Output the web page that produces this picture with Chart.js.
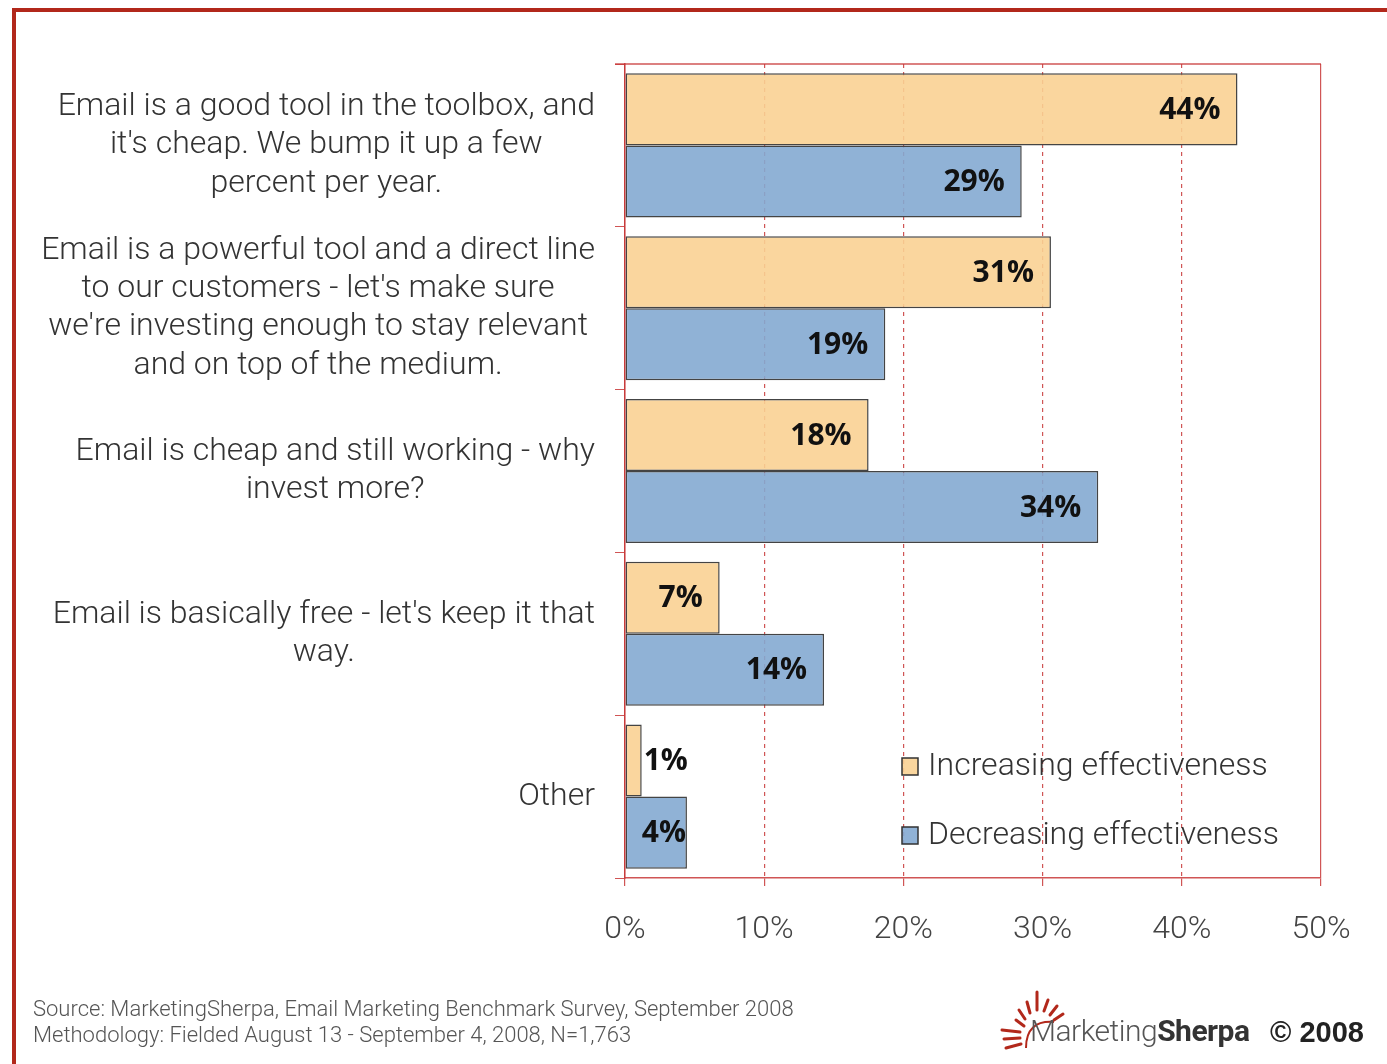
<!DOCTYPE html>
<html>
<head>
<meta charset="utf-8">
<script src="https://cdn.jsdelivr.net/npm/chart.js@4.4.1/dist/chart.umd.min.js"></script>
<style>
  body { margin: 0; background: #fff; }
  #wrap { position: relative; width: 1387px; height: 1064px; overflow: hidden; }
  #frame { position: absolute; left: 12px; top: 8px; width: 1400px; height: 1100px;
           border-left: 4px solid #b2281b; border-top: 4px solid #b2281b; }
  canvas { position: absolute; left: 0; top: 0; }
  .foot { position: absolute; left: 33px; font: 300 22px Roboto, sans-serif; color: #555; white-space: nowrap; }
  #logo { position: absolute; left: 1030px; top: 1013px; font: 300 30px Roboto, sans-serif; color: #555; white-space: nowrap; letter-spacing: -0.5px; }
  #logo b { font-weight: 700; color: #333; }
  #copy { position: absolute; left: 1270px; top: 1016px; font: 700 29px "Liberation Sans", Arial, sans-serif; color: #222; }
  #sun { position: absolute; left: 996px; top: 986px; }
</style>
</head>
<body>
<div id="wrap">
  <div id="frame"></div>
  <canvas id="chart" width="1387" height="1064"></canvas>
  <div class="foot" style="top:996px">Source: MarketingSherpa, Email Marketing Benchmark Survey, September 2008</div>
  <div class="foot" style="top:1022px">Methodology: Fielded August 13 - September 4, 2008, N=1,763</div>
  <svg id="sun" width="80" height="64" viewBox="0 0 80 64">
    <g stroke="#b2281b" stroke-width="3" stroke-linecap="round">
      <line x1="28" y1="40" x2="20" y2="34"/>
      <line x1="29" y1="33" x2="23" y2="24"/>
      <line x1="34" y1="27" x2="31" y2="16"/>
      <line x1="41" y1="24" x2="41" y2="6"/>
      <line x1="48" y1="25" x2="52" y2="14"/>
      <line x1="54" y1="29" x2="61" y2="20"/>
      <line x1="58" y1="34" x2="67" y2="28"/>
      <line x1="24" y1="46" x2="6" y2="44"/>
      <line x1="24" y1="52" x2="8" y2="53"/>
      <line x1="25" y1="58" x2="10" y2="62"/>
    </g>
    <path d="M30 62 Q30 34 58 36" fill="none" stroke="#b2281b" stroke-width="2"/>
  </svg>
  <div id="logo">Marketing<b>Sherpa</b></div>
  <div id="copy">© 2008</div>
</div>
<script>
const categories = [
  ["Email is a good tool in the toolbox, and", "it's cheap. We bump it up a few", "percent per year."],
  ["Email is a powerful tool and a direct line", "to our customers - let's make sure", "we're investing enough to stay relevant", "and on top of the medium."],
  ["Email is cheap and still working - why", "invest more?"],
  ["Email is basically free - let's keep it that", "way."],
  ["Other"]
];
const seriesNames = ["Increasing effectiveness", "Decreasing effectiveness"];
const increasing = [44, 30.6, 17.5, 6.8, 1.2];
const decreasing = [28.5, 18.7, 34.0, 14.3, 4.45];
const xTicks = [0, 10, 20, 30, 40, 50];

const red = "rgba(200,55,55,0.85)";
const orangeFill = "rgba(250,210,148,0.9)";
const blueFill = "rgba(132,170,210,0.9)";

const barLabels = {
  id: "barLabels",
  afterDatasetsDraw(chart) {
    const ctx = chart.ctx;
    ctx.save();
    ctx.font = "700 30px 'Open Sans', sans-serif";
    ctx.fillStyle = "#111";
    ctx.textBaseline = "middle";
    ctx.textAlign = "left";
    chart.data.datasets.forEach((ds, di) => {
      chart.getDatasetMeta(di).data.forEach((el, i) => {
        const txt = Math.round(ds.data[i]) + "%";
        const w = ctx.measureText(txt).width;
        let right = el.x - 17;
        if (right - w < el.base + 14) right = el.x - 1;
        let left = right - w;
        if (left < el.base) left = el.x + 2;
        ctx.fillText(txt, left, el.y + 1);
      });
    });
    ctx.restore();
  }
};

// category labels: each block right-aligned to the axis, lines centred inside the block
const categoryLabels = {
  id: "categoryLabels",
  afterDraw(chart) {
    const ctx = chart.ctx;
    const y = chart.scales.y;
    const lh = 38.4;
    ctx.save();
    ctx.font = "300 32px Roboto, sans-serif";
    ctx.fillStyle = "#333";
    ctx.textBaseline = "middle";
    ctx.textAlign = "center";
    categories.forEach((lines, i) => {
      const blockW = Math.max(...lines.map(l => ctx.measureText(l).width));
      const cx = y.right - 30 - blockW / 2;
      const cy = y.getPixelForValue(i);
      lines.forEach((l, k) => {
        ctx.fillText(l, cx, cy + (k - (lines.length - 1) / 2) * lh);
      });
    });
    ctx.restore();
  }
};

const frameAndLegend = {
  id: "frameAndLegend",
  afterDraw(chart) {
    const ctx = chart.ctx;
    const a = chart.chartArea;
    ctx.save();
    ctx.strokeStyle = red;
    ctx.lineWidth = 1.5;
    ctx.beginPath();
    ctx.moveTo(a.left - 10, a.top);
    ctx.lineTo(a.right, a.top);
    ctx.stroke();
    // legend inside the plot
    const fills = [orangeFill, blueFill];
    ctx.font = "300 32px Roboto, sans-serif";
    ctx.textBaseline = "middle";
    seriesNames.forEach((name, i) => {
      const bx = a.left + 277, by = a.top + 694 + i * 69;
      ctx.fillStyle = fills[i];
      ctx.fillRect(bx, by, 16, 17);
      ctx.strokeStyle = "#333";
      ctx.lineWidth = 1.5;
      ctx.strokeRect(bx, by, 16, 17);
      ctx.fillStyle = "#333";
      ctx.fillText(name, bx + 26, by + 9);
    });
    ctx.restore();
  }
};

new Chart(document.getElementById("chart"), {
  type: "bar",
  data: {
    labels: categories,
    datasets: [
      { label: seriesNames[0], data: increasing, backgroundColor: orangeFill, borderColor: "#444", borderWidth: 1.5, borderSkipped: false },
      { label: seriesNames[1], data: decreasing, backgroundColor: blueFill, borderColor: "#444", borderWidth: 1.5, borderSkipped: false }
    ]
  },
  options: {
    indexAxis: "y",
    responsive: false,
    animation: false,
    datasets: { bar: { categoryPercentage: 0.885, barPercentage: 1.0 } },
    layout: { padding: { left: 15, right: 66, top: 64, bottom: 106 } },
    plugins: { legend: { display: false }, tooltip: { enabled: false } },
    scales: {
      x: {
        min: 0, max: 50,
        afterBuildTicks(scale) { scale.ticks = xTicks.map(v => ({ value: v })); },
        afterFit(scale) { scale.height = 80; },
        ticks: {
          padding: 25,
          color: "#444",
          font: { family: "Roboto", size: 32, weight: "300" },
          callback: v => v + "%"
        },
        grid: {
          color: red,
          lineWidth: 1.2,
          tickLength: 8,
          tickColor: red,
          tickBorderDash: []
        },
        border: {
          color: red,
          width: 1.5,
          dash: c => (c.tick && c.tick.value > 0 && c.tick.value < 50) ? [4, 4] : []
        }
      },
      y: {
        afterFit(scale) { scale.width = 610; },
        ticks: { display: false },
        grid: {
          drawOnChartArea: false,
          tickLength: 10,
          tickColor: red,
          color: red
        },
        border: { color: red, width: 1.5 }
      }
    }
  },
  plugins: [barLabels, categoryLabels, frameAndLegend]
});
</script>
</body>
</html>
